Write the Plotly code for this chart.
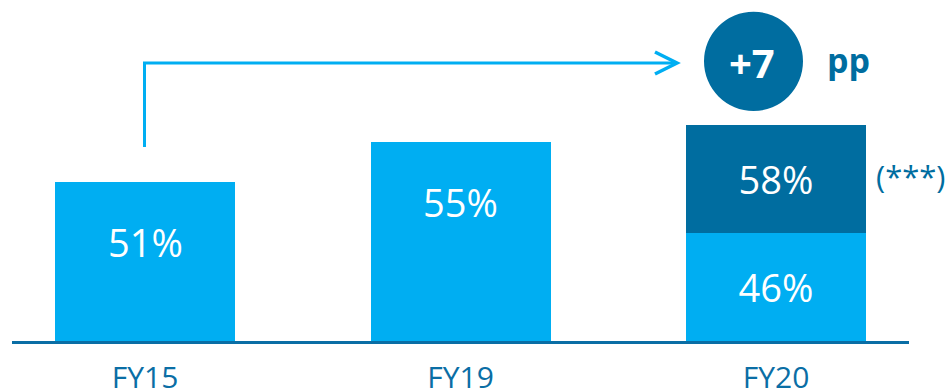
import plotly.graph_objects as go

# ---- data ----
categories = ["FY15", "FY19", "FY20"]
share_labels = [51, 55, 46]          # light-blue bar labels (%)
fy20_total_label = 58                # dark-blue segment label (%)
# bar heights as drawn in the picture (visual units, baseline = 0)
base_heights = [159, 199, 108]
top_heights = [0, 0, 108]
delta_pp = 7
footnote = "(***)"

LIGHT = "#00AEF2"
DARK = "#006DA0"
LINE_DARK = "#0A6EA5"
FONT = "Open Sans"

W, H = 946, 391
PLOT_H = 341

def px(x):
    return x / W

def py(y):
    return (PLOT_H - y) / PLOT_H

fig = go.Figure()

fig.add_trace(go.Bar(
    x=[0, 1, 2], y=base_heights, marker=dict(color=LIGHT, line=dict(width=0)),
    width=0.5705,
    text=["", "", f"{share_labels[2]}%"], textposition="inside",
    insidetextanchor="middle", textangle=0, constraintext="none",
    textfont=dict(family=FONT, size=38, color="white"),
    hoverinfo="skip", showlegend=False,
))
fig.add_trace(go.Bar(
    x=[0, 1, 2], y=top_heights, marker=dict(color=DARK, line=dict(width=0)),
    width=0.5705,
    text=["", "", f"{fy20_total_label}%"], textposition="inside",
    insidetextanchor="middle", textangle=0, constraintext="none",
    textfont=dict(family=FONT, size=38, color="white"),
    hoverinfo="skip", showlegend=False,
))

annotations = []
# labels for FY15 / FY19 placed in upper part of bars
for i in range(2):
    annotations.append(dict(
        x=i, y=base_heights[i] - 60, xref="x", yref="y",
        text=f"{share_labels[i]}%", showarrow=False,
        font=dict(family=FONT, size=38, color="white"),
        xanchor="center", yanchor="middle",
    ))

# +7 circle text
annotations.append(dict(
    x=px(752), y=py(63), xref="paper", yref="paper",
    text=f"<b>+{delta_pp}</b>", showarrow=False,
    font=dict(family=FONT, size=40, color="white"),
    xanchor="center", yanchor="middle",
))
annotations.append(dict(
    x=px(848), y=py(60), xref="paper", yref="paper",
    text="<b>pp</b>", showarrow=False,
    font=dict(family=FONT, size=34, color=DARK),
    xanchor="center", yanchor="middle",
))
annotations.append(dict(
    x=px(911), y=py(176), xref="paper", yref="paper",
    text=footnote, showarrow=False,
    font=dict(family=FONT, size=31, color=DARK),
    xanchor="center", yanchor="middle",
))

shapes = [
    # baseline
    dict(type="line", xref="paper", yref="paper",
         x0=px(12), x1=px(909), y0=py(342.5), y1=py(342.5),
         line=dict(color=LINE_DARK, width=3)),
    # elbow arrow
    dict(type="path", xref="paper", yref="paper",
         path=f"M {px(144.5)},{py(147)} L {px(144.5)},{py(63)} L {px(676)},{py(63)}",
         line=dict(color=LIGHT, width=3)),
    dict(type="path", xref="paper", yref="paper",
         path=f"M {px(655)},{py(52)} L {px(677)},{py(63)} L {px(655)},{py(74)}",
         line=dict(color=LIGHT, width=3.5)),
    # circle
    dict(type="circle", xref="paper", yref="paper",
         x0=px(704), x1=px(803), y0=py(111), y1=py(11.7),
         fillcolor=DARK, line=dict(width=0)),
]

fig.update_layout(
    width=W, height=H,
    margin=dict(l=0, r=0, t=0, b=H - PLOT_H),
    paper_bgcolor="white", plot_bgcolor="white",
    barmode="stack",
    xaxis=dict(range=[-145 / 315.5, (W - 145) / 315.5],
               tickvals=[0, 1, 2], ticktext=categories,
               tickfont=dict(family=FONT, size=30, color=LINE_DARK),
               ticklabelstandoff=16, automargin=False,
               showgrid=False, zeroline=False, showline=False, ticks="",
               fixedrange=True),
    yaxis=dict(range=[0, PLOT_H], visible=False, fixedrange=True,
               automargin=False),
    annotations=annotations,
    shapes=shapes,
    showlegend=False,
)

fig.write_html(
    "out.html",
    config={"displayModeBar": False},
    post_script="document.body.style.margin='0';document.body.style.overflow='hidden';",
)
